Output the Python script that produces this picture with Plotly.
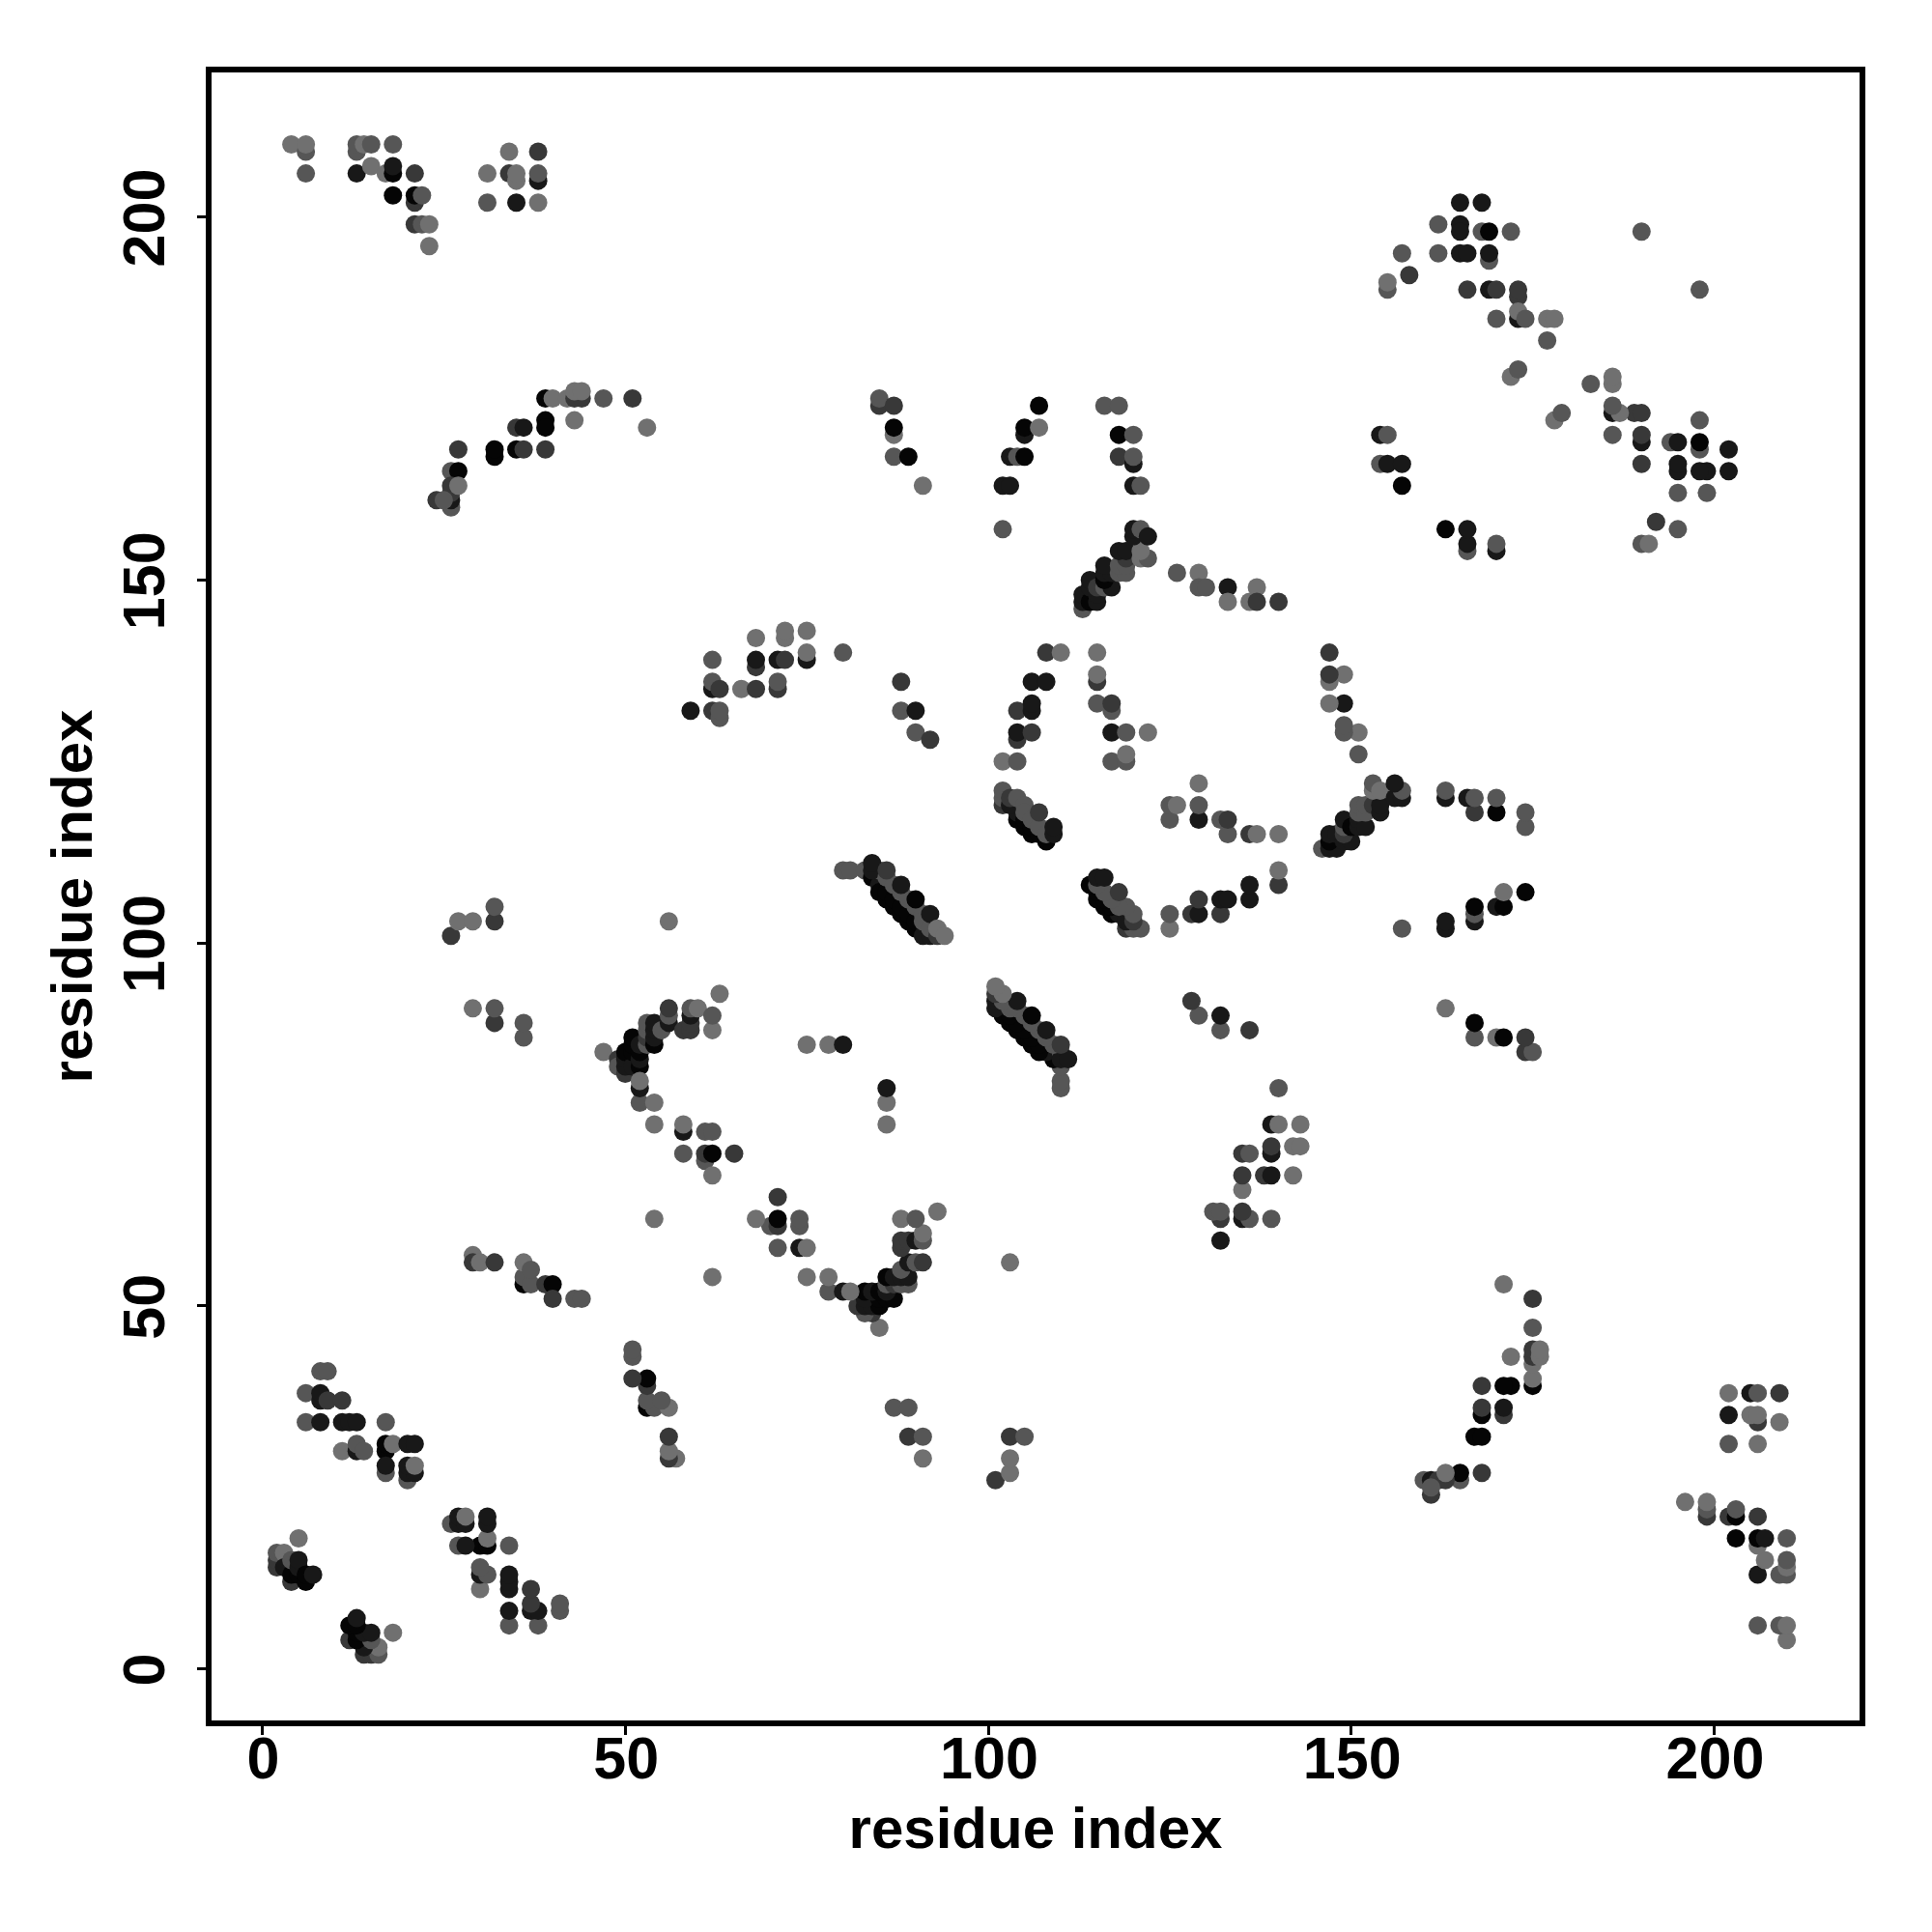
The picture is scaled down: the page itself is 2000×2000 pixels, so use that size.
import plotly.graph_objects as go

# contact pairs (i < j) read from the upper triangle of the symmetric map; level 0 = weakest .. 4 = strongest
a_i=[4,6,6,6,13,13,14,15,18,13,15,17,18,18,21,18,21,21,22,21,22,23,23,34,38,31,34,35,35,38,38,31,35,38]
a_j=[210,209,210,206,209,210,210,210,210,206,207,206,206,207,206,203,202,203,203,199,199,199,196,209,209,206,206,205,206,205,206,202,202,202]
a_l=[0,1,0,1,1,1,0,1,1,3,0,0,4,3,2,4,2,4,1,2,1,0,0,0,2,0,2,0,0,3,1,1,3,0]

b_i=[39,40,42,43,44,43,44,47,51,39,43,39,35,36,53,27,32,32,35,36,39,26,27,26,26,26,26,27,24,25]
b_j=[175,175,175,175,175,176,176,175,175,172,172,171,171,171,171,168,167,168,168,168,168,165,165,160,161,162,163,163,161,161]
b_l=[4,0,0,2,2,0,0,1,2,4,0,4,2,3,0,2,4,4,4,2,2,1,4,1,3,2,2,0,2,1]

c_i=[85,85,87,87,87,87,89,91]
c_j=[174,175,174,170,171,167,167,163]
c_l=[2,1,2,0,4,1,4,0]

d_i=[107,105,105,107,103,104,105,102,103,102]
d_j=[174,170,171,171,167,167,167,163,163,157]
d_l=[4,3,4,0,3,1,4,3,3,1]

e_i=[116,118,118,120,118,120,120,120,121]
e_j=[174,174,170,170,167,166,167,163,163]
e_l=[1,1,4,1,2,3,1,3,1]

f_i=[113,113,113,114,115,115,114,114,115,116,117,116,116,117,116,118,119,118,119,119,118,119,121,122,121,120,120,121,122]
f_j=[146,147,148,147,147,148,149,150,149,149,149,150,151,151,152,151,151,152,152,153,154,154,153,153,154,156,157,157,156]
f_l=[1,3,3,4,3,3,3,3,2,1,3,4,3,3,3,1,1,1,1,2,3,3,0,1,0,3,3,1,3]

g_i=[126,129,129,130,133,133,137,136,137,140]
g_j=[151,151,149,149,149,147,149,147,147,147]
g_l=[1,0,1,1,3,0,0,0,2,2]

h_i=[59,62,62,62,63,62,63,63,66,68,68,68,68,71,72,71,71,72,72,75,75,75,80]
h_j=[132,139,135,136,135,132,131,132,135,142,138,139,135,139,139,135,136,142,143,143,139,140,140]
h_l=[3,1,3,1,2,2,1,1,0,0,2,3,2,3,2,2,1,0,0,0,3,0,1]

m_i=[88,88,90,90,92]
m_j=[136,132,132,129,128]
m_l=[2,1,3,1,2]

j_i=[108,110,106,108,104,106,106,104,104,106,102,104]
j_j=[140,140,136,136,132,132,133,128,129,129,125,125]
j_l=[2,0,3,3,2,3,3,2,3,2,0,1]

k_i=[115,115,115,115,117,117,117,119,122,117,119,119]
k_j=[140,136,137,133,132,133,129,129,129,125,125,126]
k_l=[0,2,0,1,1,2,3,1,0,1,1,0]

n_i=[104,104,105,105,106,106,107,108,102,102,102,103,103,104,105,105,106,107,108,107,109,109]
n_j=[117,118,116,117,115,116,115,114,119,120,121,119,120,120,119,118,117,116,115,118,115,116]
n_l=[4,3,4,4,4,4,4,4,2,1,1,3,2,1,1,1,1,1,1,2,3,3]

r_i=[165,168,162,165,165,168,169,172,190,162,165,166,169,169,157,158,155,155,166,169,170,173,173,170,173,173,174,177,178,177,172,173]
r_j=[202,202,199,199,198,198,198,198,198,195,195,195,194,195,195,192,190,191,190,190,190,189,190,186,186,187,186,186,186,183,178,179]
r_l=[3,3,1,3,3,1,4,1,1,1,3,3,1,3,1,2,1,0,2,3,2,2,2,1,3,0,1,0,0,1,0,1]

s_i=[154,155,154,155,157,157]
s_j=[170,170,166,166,166,163]
s_l=[3,1,1,3,3,4]

t_i=[80,81,83,84,85,85,86,87,88,89,90,86,87,88,89,90,91,92,85,84,84,86,87,88,89,90,91,91,92,86,88,90,92,93,93,94]
t_j=[110,110,110,109,108,107,106,105,104,103,102,107,106,105,104,103,101,101,110,110,111,109,108,107,106,105,104,103,102,110,108,106,104,101,102,101]
t_l=[1,1,1,4,3,4,4,4,4,4,4,4,4,4,4,4,3,3,1,3,3,1,1,1,1,1,1,1,1,2,3,4,3,2,0,0]

u_i=[47,49,49,50,50,50,50,51,51,51,51,52,52,52,52,53,53,53,53,54,54,54,54,55,56,56,56,58,59,59,59,59,60,62,62,63,52,52,52,54,54]
u_j=[85,84,83,82,83,84,85,83,85,86,87,83,84,85,86,86,87,88,89,86,87,88,89,88,89,90,91,88,88,89,90,91,91,88,90,93,78,80,81,78,75]
u_l=[0,2,1,2,3,3,4,3,4,4,4,4,3,4,3,1,2,1,1,4,3,3,3,1,3,1,2,2,2,2,3,1,0,0,1,0,1,3,0,0,0]

v_i=[58,58,61,62,58,61,61,62,65,62,56,54,75,78,80]
v_j=[74,75,74,74,71,70,71,71,71,68,103,62,86,86,86]
v_l=[3,0,1,1,1,1,2,4,2,0,0,0,0,0,3]

w_i=[29,29,30,32,36,36,37,36,37,39,40,40,43,44]
w_j=[57,56,56,56,53,54,53,56,55,53,53,51,51,51]
w_l=[0,2,0,2,4,1,1,0,1,2,4,2,1,1]

x_i=[8,9,6,8,8,9,11,6,8,11,12,13,17,11,13,13,14,17,17,18,20,21,17,17,20,20,21,20,21]
x_j=[41,41,38,37,38,37,37,34,34,34,34,34,34,30,30,31,30,30,31,31,31,31,27,28,26,27,27,28,28]
x_l=[1,1,1,3,3,2,2,1,3,3,3,3,1,0,3,1,1,4,4,0,3,3,1,3,1,3,3,3,0]

y_i=[2,2,2,3,3,4,4,4,5,5,5,6,6,7,5]
y_j=[14,15,16,16,14,12,13,15,13,14,15,12,13,13,18]
y_l=[2,2,1,0,3,2,4,1,4,3,3,4,4,3,0]

z_i=[26,27,29,32,32,29,32,32,36,36]
z_j=[101,103,103,103,105,91,89,91,87,89]
z_l=[2,0,0,2,1,0,2,1,1,1]

groups = [
    (a_i,a_j,a_l),(b_i,b_j,b_l),(c_i,c_j,c_l),(d_i,d_j,d_l),(e_i,e_j,e_l),(f_i,f_j,f_l),
    (g_i,g_j,g_l),(h_i,h_j,h_l),(m_i,m_j,m_l),(j_i,j_j,j_l),(k_i,k_j,k_l),(n_i,n_j,n_l),
    (r_i,r_j,r_l),(s_i,s_j,s_l),(t_i,t_j,t_l),(u_i,u_j,u_l),(v_i,v_j,v_l),(w_i,w_j,w_l),
    (x_i,x_j,x_l),(y_i,y_j,y_l),(z_i,z_j,z_l),
]
tick_vals = [0, 50, 100, 150, 200]
greys = [112, 86, 56, 24, 5]

xs, ys, cols = [], [], []
for gi, gj, gl in groups:
    for i, j, l in zip(gi, gj, gl, strict=True):
        c = f"rgb({greys[l]},{greys[l]},{greys[l]})"
        xs += [i, j]; ys += [j, i]; cols += [c, c]

fig = go.Figure(go.Scatter(x=xs, y=ys, mode="markers",
    marker=dict(size=19, color=cols, line=dict(width=0))))

font = dict(family="Liberation Sans", size=60, color="black")
axis = dict(showgrid=False, zeroline=False, showline=True, mirror=True, linecolor="black",
            linewidth=6, ticks="outside", ticklen=9, tickwidth=3, tickcolor="black",
            tickvals=tick_vals, tickfont=dict(family="Liberation Sans", size=61, color="black", weight="bold"))
fig.update_xaxes(range=[-6.99, 220.03], title=dict(text="<b>residue index</b>", font=font, standoff=20),
                 ticklabelstandoff=-28, ticklabelshift=1, **axis)
fig.update_yaxes(range=[-7.09, 219.92], tickangle=-90, title=dict(text="<b>residue index</b>", font=font, standoff=2),
                 ticklabelstandoff=10, ticklabelshift=10, **axis)
fig.update_layout(width=2000, height=2000, autosize=False, paper_bgcolor="white", plot_bgcolor="white",
                  margin=dict(l=219, r=75, t=75, b=219, autoexpand=False), showlegend=False)
fig.write_html("out.html", post_script="document.body.style.margin='0';", config=dict(displayModeBar=False))
